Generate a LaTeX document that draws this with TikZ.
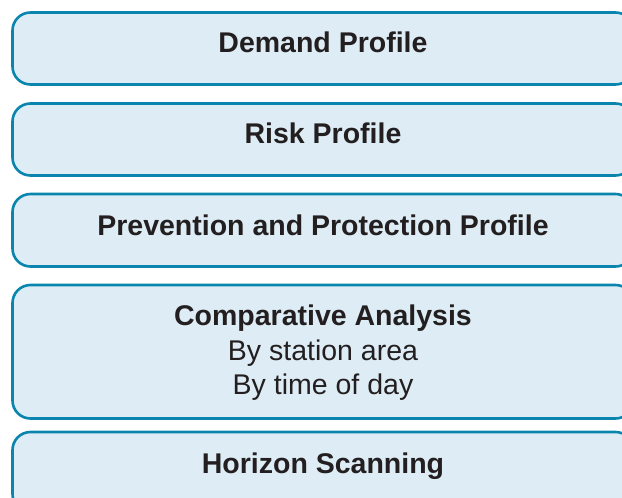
\documentclass[tikz,border=0pt]{standalone}
\usepackage{fontspec}
\setmainfont{Liberation Sans}
\definecolor{edgeblue}{HTML}{0A85AD}
\definecolor{fillblue}{HTML}{DEEDF5}
\definecolor{txt}{HTML}{231F20}
\tikzset{
  profilebox/.style={draw=edgeblue, fill=fillblue, line width=2.6pt, rounded corners=18pt,
    minimum width=621pt, inner sep=0pt, outer sep=0pt},
  boldlabel/.style={anchor=base, text=txt, font=\fontsize{28.5}{34}\selectfont\bfseries, inner sep=0pt},
  plainlabel/.style={anchor=base, text=txt, font=\fontsize{28.5}{34}\selectfont, inner sep=0pt}
}
\begin{document}
\begin{tikzpicture}[x=1pt,y=1pt]
\useasboundingbox (0,0) rectangle (622,498);
\clip (0,0) rectangle (622,498);
\node[profilebox, minimum height=72pt] (b1) at (323,449.5) {};
\node[profilebox, minimum height=72pt] (b2) at (323,358.5) {};
\node[profilebox, minimum height=72.5pt] (b3) at (323,267.75) {};
\node[profilebox, minimum height=133.5pt] (b4) at (323,146.25) {};
\node[profilebox, minimum height=80pt] (b5) at (323,26) {};
\node[boldlabel] (t1) at (323,445.3) {Demand Profile};
\node[boldlabel] (t2) at (323,354.3) {Risk Profile};
\node[boldlabel] (t3) at (323,262) {Prevention and Protection Profile};
\node[boldlabel] (t4) at (323,172) {Comparative Analysis};
\node[plainlabel] (t5) at (323,137.3) {By station area};
\node[plainlabel] (t6) at (323,103) {By time of day};
\node[boldlabel] (t7) at (323,24.7) {Horizon Scanning};
\end{tikzpicture}
\end{document}
